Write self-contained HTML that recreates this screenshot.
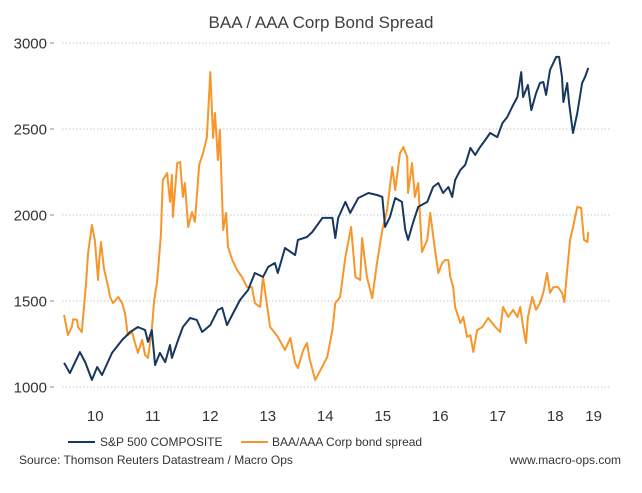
<!DOCTYPE html>
<html><head><meta charset="utf-8"><style>
html,body{margin:0;padding:0;background:#fff;}
svg{display:block;font-family:"Liberation Sans",Arial,sans-serif;}
</style></head><body>
<svg id="chart" width="642" height="493" viewBox="0 0 642 493">
<text x="321" y="28" text-anchor="middle" font-size="17" fill="#404040">BAA / AAA Corp Bond Spread</text>
<g id="grid"></g>
<g id="yaxis"></g>
<g id="xaxis"></g>
<g id="series"></g>
<g>
<g>
<line x1="68" y1="442" x2="95" y2="442" stroke="#17375e" stroke-width="2"/>
<text x="100" y="446" font-size="12" fill="#333">S&amp;P 500 COMPOSITE</text></g>
<g>
<line x1="241" y1="442" x2="268" y2="442" stroke="#f7962b" stroke-width="2"/>
<text x="272" y="446" font-size="12" fill="#333">BAA/AAA Corp bond spread</text></g>
</g>
<text x="19" y="464" font-size="12" fill="#333">Source: Thomson Reuters Datastream / Macro Ops</text>
<text x="621" y="464" font-size="12" fill="#333" text-anchor="end">www.macro-ops.com</text>
</svg>
<script>
// months since Jan 2010
const yTicks=[1000,1500,2000,2500,3000];
const xYears=["10","11","12","13","14","15","16","17","18","19"];
const xYearMonths=[6,18,30,42,54,66,78,90,102,110];
const spMonths=[-0.5,0.7,2.8,3.9,5.3,6.4,7.4,9.5,11.6,13.3,14.9,16.4,17.0,17.8,18.5,19.5,20.6,21.6,22.0,23.3,24.3,25.8,27.2,28.3,30.0,31.6,32.5,33.5,34.8,36.2,37.9,39.3,41.0,42.1,43.5,44.1,45.6,47.7,48.3,50.2,51.3,53.4,55.5,56.1,56.7,58.2,59.2,60.9,63.0,64.8,65.9,66.5,67.5,68.6,70.0,70.7,71.3,72.3,73.4,75.3,76.5,77.6,78.6,79.7,80.5,81.1,82.2,83.2,84.3,85.3,86.3,87.4,88.4,89.9,91.0,92.0,93.0,94.1,94.9,95.3,96.3,97.0,98.0,98.8,99.5,100.1,100.9,102.2,102.8,103.4,103.7,104.5,104.9,105.7,106.6,107.6,108.2,108.9];
const spValues=[1140,1081,1203,1145,1041,1116,1070,1198,1273,1320,1349,1331,1262,1331,1128,1198,1145,1244,1169,1273,1349,1401,1390,1320,1360,1448,1460,1360,1430,1506,1564,1663,1640,1698,1721,1663,1808,1767,1855,1872,1901,1983,1983,1866,1983,2076,2012,2099,2128,2116,2105,1930,1988,2099,2076,1913,1855,1953,2047,2076,2163,2186,2128,2163,2105,2203,2262,2291,2390,2349,2395,2436,2477,2453,2535,2570,2628,2686,2831,2686,2756,2610,2709,2767,2773,2698,2843,2919,2919,2802,2657,2767,2650,2477,2593,2767,2802,2855];
const sprMonths=[-0.5,0.3,1.1,1.4,2.2,2.4,3.2,4.1,4.5,5.3,5.9,6.6,6.8,7.2,7.8,8.7,9.1,9.7,10.8,11.6,12.2,12.8,13.7,14.3,14.9,15.8,16.4,17.0,17.8,18.3,18.9,19.7,20.1,21.0,21.6,22.0,22.2,23.1,23.7,24.3,24.7,25.4,26.2,26.8,27.7,28.5,29.3,30.0,30.6,31.0,31.6,32.0,32.7,33.3,33.7,34.6,35.6,36.6,37.7,38.7,39.3,40.4,41.0,41.9,42.5,43.5,44.1,45.6,46.7,47.7,48.3,49.4,50.2,50.8,51.9,53.0,54.4,55.5,56.1,57.1,58.2,59.4,60.3,61.3,61.7,62.7,63.8,64.8,65.9,66.9,68.0,68.6,69.6,70.3,71.1,71.3,72.1,72.7,73.4,74.2,75.3,75.9,76.9,77.6,78.4,79.0,79.7,80.1,80.7,81.1,82.2,82.8,83.6,84.3,84.9,85.7,86.8,88.0,89.5,90.5,91.1,92.2,93.2,94.1,94.7,95.3,95.9,96.3,97.2,98.0,98.8,99.5,100.3,100.9,101.6,102.6,103.4,103.9,104.5,105.1,105.7,106.6,107.4,108.0,108.7,108.9];
const sprValues=[1419,1302,1349,1395,1390,1349,1320,1605,1779,1942,1855,1622,1727,1843,1692,1581,1523,1488,1523,1488,1430,1302,1320,1256,1198,1273,1186,1169,1331,1506,1610,1884,2203,2244,2076,2233,1988,2302,2308,2105,2186,1930,2017,1960,2291,2360,2453,2831,2448,2593,2320,2494,1913,2012,1814,1738,1680,1640,1581,1581,1488,1465,1640,1465,1349,1314,1291,1215,1285,1140,1110,1215,1256,1157,1041,1099,1174,1331,1488,1523,1756,1930,1640,1622,1866,1640,1517,1721,1913,2029,2279,2145,2360,2395,2337,2128,2302,2105,2186,1785,1855,2012,1797,1663,1721,1738,1738,1640,1581,1465,1372,1407,1291,1302,1204,1331,1349,1401,1349,1320,1465,1407,1448,1407,1465,1349,1256,1407,1523,1448,1488,1547,1663,1547,1581,1581,1547,1494,1680,1855,1930,2047,2041,1855,1843,1902];
const NS="http://www.w3.org/2000/svg";
function X(m){return 66.5+m*57.5/12;}
function Y(v){return 387-(v-1000)*344/2000;}
function mk(tag,attrs,parent){const e=document.createElementNS(NS,tag);for(const k in attrs)e.setAttribute(k,attrs[k]);parent.appendChild(e);return e;}
const grid=document.getElementById('grid'),ya=document.getElementById('yaxis'),xa=document.getElementById('xaxis'),ser=document.getElementById('series');
yTicks.forEach(v=>{
  const g=mk('line',{x1:62,x2:610,y1:Y(v),y2:Y(v),stroke:'#c8c8c8','stroke-width':1,'stroke-dasharray':'1.5,2'},grid);
  
  
  const t=mk('line',{x1:50,x2:54,y1:Y(v),y2:Y(v),stroke:'#888','stroke-width':1},ya);
  
  
  const l=mk('text',{x:47,y:Y(v)+5.5,'text-anchor':'end','font-size':15,fill:'#333'},ya);
  l.textContent=v;
  
  
});
xYears.forEach((s,i)=>{
  const l=mk('text',{x:X(xYearMonths[i]),y:421,'text-anchor':'middle','font-size':15,fill:'#333'},xa);
  l.textContent=s;
  
  
});
function line(ms,vs,color,name){
  const d=ms.map((m,i)=>(i?'L':'M')+X(m).toFixed(1)+' '+Y(vs[i]).toFixed(1)).join(' ');
  const p=mk('path',{d:d,fill:'none',stroke:color,'stroke-width':2,'stroke-linejoin':'round'},ser);
  
  
}
line(sprMonths,sprValues,'#f7962b','spread-line');
line(spMonths,spValues,'#17375e','sp500-line');
</script>
</body></html>
